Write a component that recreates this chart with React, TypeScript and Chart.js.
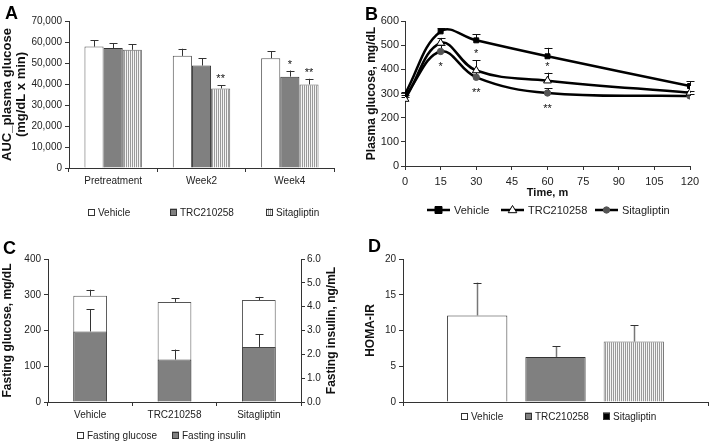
import React, { useEffect, useRef } from 'react';
import { Chart, registerables } from 'chart.js';

Chart.register(...registerables);

const FONT = '"Liberation Sans", Arial, Helvetica, sans-serif';
Chart.defaults.font.family = FONT;
Chart.defaults.color = '#222';

// ---------- Panel A: AUC plasma glucose ----------
const aCategories = ['Pretreatment', 'Week2', 'Week4'];
const aVehicle = [57800, 53400, 52300];
const aVehicleErr = [3100, 3400, 3200];
const aTrc = [57100, 48800, 43500];
const aTrcErr = [2400, 3500, 2900];
const aSita = [56300, 37900, 39800];
const aSitaErr = [2700, 1400, 2700];
const aTrcSig = ['', '', '*'];
const aSitaSig = ['', '**', '**'];

// ---------- Panel B: OGTT time course ----------
const bTimes = [0, 15, 30, 60, 120];
const bVehicle = [298, 557, 520, 454, 331];
const bVehicleErr = [8, 14, 25, 35, 19];
const bTrc = [277, 509, 395, 353, 303];
const bTrcErr = [8, 21, 43, 33, 8];
const bSita = [287, 474, 367, 302, 290];
const bSitaErr = [8, 25, 20, 20, 8];
const bTrcSig = ['', '', '*', '*', ''];
const bSitaSig = ['', '*', '**', '**', ''];

// ---------- Panel C: fasting glucose / insulin ----------
const cCategories = ['Vehicle', 'TRC210258', 'Sitagliptin'];
const cGlucose = [297, 280, 285];
const cGlucoseErr = [17, 10, 9];
const cInsulin = [2.96, 1.78, 2.31];
const cInsulinErr = [0.94, 0.42, 0.54];

// ---------- Panel D: HOMA-IR ----------
const dCategories = [''];
const dVehicle = [12.1];
const dVehicleErr = [4.6];
const dTrc = [6.3];
const dTrcErr = [1.5];
const dSita = [8.45];
const dSitaErr = [2.25];

function makeStripes(): CanvasPattern | string {
  const c = document.createElement('canvas');
  c.width = 2;
  c.height = 2;
  const g = c.getContext('2d');
  if (!g) return '#c8c8c8';
  g.fillStyle = '#f4f4f4';
  g.fillRect(0, 0, 2, 2);
  g.fillStyle = '#9a9a9a';
  g.fillRect(0, 0, 1, 2);
  return g.createPattern(c, 'repeat') || '#c8c8c8';
}

function valueOf(raw: any): number {
  return typeof raw === 'number' ? raw : raw.y;
}

function drawErrorBars(chart: any, layer: string) {
  const ctx = chart.ctx;
  chart.data.datasets.forEach((ds: any, i: number) => {
    if (!ds.errors || (ds.errorLayer || 'after') !== layer) return;
    const meta = chart.getDatasetMeta(i);
    if (meta.hidden) return;
    const vScale = meta.vScale;
    meta.data.forEach((el: any, j: number) => {
      const err = ds.errors[j];
      if (err == null) return;
      const v = valueOf(ds.data[j]);
      const yTop = vScale.getPixelForValue(v + err);
      const x = Math.round(el.x) + 0.5;
      const cap = ds.errorCap ?? 4;
      ctx.save();
      ctx.strokeStyle = ds.errorColor || '#333';
      ctx.lineWidth = ds.errorWidth || 1;
      ctx.beginPath();
      ctx.moveTo(x, el.y);
      ctx.lineTo(x, yTop);
      ctx.stroke();
      ctx.strokeStyle = ds.capColor || ds.errorColor || '#333';
      ctx.lineWidth = 1;
      ctx.beginPath();
      ctx.moveTo(x - cap, Math.round(yTop) + 0.5);
      ctx.lineTo(x + cap, Math.round(yTop) + 0.5);
      ctx.stroke();
      ctx.restore();
    });
  });
}

function drawSig(chart: any) {
  const ctx = chart.ctx;
  chart.data.datasets.forEach((ds: any, i: number) => {
    if (!ds.sig) return;
    const meta = chart.getDatasetMeta(i);
    const vScale = meta.vScale;
    meta.data.forEach((el: any, j: number) => {
      const s = ds.sig[j];
      if (!s) return;
      ctx.save();
      ctx.font = `11px ${FONT}`;
      ctx.fillStyle = '#111';
      ctx.textAlign = 'center';
      ctx.textBaseline = 'alphabetic';
      let y: number;
      if (ds.sigPlace === 'below') {
        y = el.y + 19;
      } else {
        const err = ds.errors ? ds.errors[j] || 0 : 0;
        y = vScale.getPixelForValue(valueOf(ds.data[j]) + err) - 3;
      }
      ctx.fillText(s, el.x, y);
      ctx.restore();
    });
  });
}

const errorBarPlugin = {
  id: 'errorBars',
  beforeDatasetsDraw(chart: any) {
    drawErrorBars(chart, 'before');
  },
  afterDatasetsDraw(chart: any) {
    drawErrorBars(chart, 'after');
    drawSig(chart);
  },
};

function drawMarker(ctx: CanvasRenderingContext2D, ds: any, x: number, y: number) {
  const r = ds.pointRadius || 3;
  ctx.save();
  ctx.fillStyle = ds.pointBackgroundColor || '#000';
  ctx.strokeStyle = ds.pointBorderColor || '#000';
  ctx.lineWidth = ds.pointBorderWidth || 1;
  ctx.beginPath();
  if (ds.pointStyle === 'rect') {
    ctx.rect(x - r, y - r, 2 * r, 2 * r);
  } else if (ds.pointStyle === 'triangle') {
    ctx.moveTo(x, y - r);
    ctx.lineTo(x + r * 0.95, y + r * 0.6);
    ctx.lineTo(x - r * 0.95, y + r * 0.6);
    ctx.closePath();
  } else {
    ctx.arc(x, y, r, 0, Math.PI * 2);
  }
  ctx.fill();
  ctx.stroke();
  ctx.restore();
}

const decorPlugin = {
  id: 'decor',
  afterDraw(chart: any, _args: any, o: any) {
    const ctx = chart.ctx;
    ctx.save();
    if (o.letter) {
      ctx.font = `bold 18px ${FONT}`;
      ctx.fillStyle = '#000';
      ctx.textAlign = 'left';
      ctx.textBaseline = 'alphabetic';
      ctx.fillText(o.letter, o.letterX, o.letterY);
    }
    if (o.legendX) {
      ctx.font = `${o.legendFont || 10}px ${FONT}`;
      ctx.textBaseline = 'middle';
      ctx.textAlign = 'left';
      chart.data.datasets.forEach((ds: any, i: number) => {
        const x = o.legendX[i];
        const y = o.legendY;
        if (o.legendKind === 'line') {
          const len = o.lineLen || 23;
          ctx.strokeStyle = ds.borderColor;
          ctx.lineWidth = ds.borderWidth;
          ctx.beginPath();
          ctx.moveTo(x, y);
          ctx.lineTo(x + len, y);
          ctx.stroke();
          drawMarker(ctx, ds, x + len / 2, y);
          ctx.fillStyle = '#222';
          ctx.fillText(ds.label, x + len + 4, y + 1);
        } else {
          const s = o.boxSize || 7;
          ctx.fillStyle = ds.legendFill || ds.backgroundColor;
          ctx.fillRect(x, y - s / 2, s, s);
          ctx.strokeStyle = '#333';
          ctx.lineWidth = 1;
          ctx.strokeRect(x + 0.5, Math.round(y - s / 2) + 0.5, s - 1, s - 1);
          ctx.fillStyle = '#222';
          ctx.fillText(ds.label, x + s + 3, y + 1);
        }
      });
    }
    if (o.rightTitle) {
      const area = chart.chartArea;
      ctx.font = `bold 12px ${FONT}`;
      ctx.fillStyle = '#111';
      ctx.textAlign = 'center';
      ctx.textBaseline = 'middle';
      ctx.translate(o.rightTitleX, (area.top + area.bottom) / 2);
      ctx.rotate(-Math.PI / 2);
      ctx.fillText(o.rightTitle, 0, 0);
    }
    ctx.restore();
  },
};

const AXIS = '#333';
const gridCfg = { display: true, drawOnChartArea: false, drawTicks: true, tickLength: 4, color: AXIS };
const borderCfg = { display: true, color: AXIS, width: 1 };
const titleFont = (size: number, lh: number) => ({ size, weight: 'bold' as const, lineHeight: lh });

function buildA(): any {
  const stripes = makeStripes();
  const common = { borderWidth: 1, categoryPercentage: 0.65, barPercentage: 1, errorColor: '#333', errorCap: 4 };
  return {
    type: 'bar',
    data: {
      labels: aCategories,
      datasets: [
        { ...common, label: 'Vehicle', data: aVehicle, errors: aVehicleErr, backgroundColor: '#ffffff', borderColor: '#555' },
        { ...common, label: 'TRC210258', data: aTrc, errors: aTrcErr, sig: aTrcSig, backgroundColor: '#808080', borderColor: '#333' },
        { ...common, label: 'Sitagliptin', data: aSita, errors: aSitaErr, sig: aSitaSig, backgroundColor: stripes, borderColor: '#666' },
      ],
    },
    options: {
      animation: false,
      responsive: false,
      events: [],
      layout: { padding: { left: 0, right: 21, top: 21, bottom: 0 } },
      plugins: {
        legend: { display: false },
        tooltip: { enabled: false },
        decor: { letter: 'A', letterX: 5, letterY: 19, legendX: [88, 170, 266], legendY: 212, legendKind: 'box' },
      },
      scales: {
        x: {
          grid: gridCfg,
          border: borderCfg,
          ticks: { font: { size: 10 }, padding: 3 },
          afterFit: (s: any) => { s.height = 60; },
        },
        y: {
          min: 0,
          max: 70000,
          grid: gridCfg,
          border: borderCfg,
          ticks: { stepSize: 10000, font: { size: 10 }, padding: 3, callback: (v: any) => Number(v).toLocaleString('en-US') },
          title: { display: true, text: ['AUC_plasma glucose', '(mg/dL x min)'], font: titleFont(13, 1.05), color: '#111', padding: { top: 1, bottom: 0 } },
          afterFit: (s: any) => { s.width = 69; },
        },
      },
    },
    plugins: [errorBarPlugin, decorPlugin],
  };
}

function buildB(): any {
  const pts = (vals: number[]) => vals.map((v, i) => ({ x: bTimes[i], y: v }));
  const common = { borderColor: '#000', borderWidth: 2.5, tension: 0.4, errorLayer: 'before', errorColor: '#111', errorCap: 4 };
  return {
    type: 'line',
    data: {
      datasets: [
        { ...common, label: 'Vehicle', data: pts(bVehicle), errors: bVehicleErr, pointStyle: 'rect', pointRadius: 3.5, pointBackgroundColor: '#000', pointBorderColor: '#000', pointBorderWidth: 1 },
        { ...common, label: 'TRC210258', data: pts(bTrc), errors: bTrcErr, sig: bTrcSig, pointStyle: 'triangle', pointRadius: 4.5, pointBackgroundColor: '#fff', pointBorderColor: '#000', pointBorderWidth: 1 },
        { ...common, label: 'Sitagliptin', data: pts(bSita), errors: bSitaErr, sig: bSitaSig, sigPlace: 'below', pointStyle: 'circle', pointRadius: 3.2, pointBackgroundColor: '#555', pointBorderColor: '#555', pointBorderWidth: 1 },
      ],
    },
    options: {
      animation: false,
      responsive: false,
      events: [],
      layout: { padding: { left: 0, right: 20, top: 21, bottom: 28 } },
      plugins: {
        legend: { display: false },
        tooltip: { enabled: false },
        decor: { letter: 'B', letterX: 10, letterY: 20, legendX: [72, 146, 240], legendY: 210, legendKind: 'line', lineLen: 23, legendFont: 11 },
      },
      scales: {
        x: {
          type: 'linear',
          min: 0,
          max: 120,
          grid: gridCfg,
          border: borderCfg,
          ticks: { stepSize: 15, font: { size: 11 }, padding: 5 },
          title: { display: true, text: 'Time, m', font: titleFont(11, 1.2), color: '#111', padding: { top: 0, bottom: 0 } },
          afterFit: (s: any) => { s.height = 34; },
        },
        y: {
          min: 0,
          max: 600,
          grid: gridCfg,
          border: borderCfg,
          ticks: { stepSize: 100, font: { size: 11 }, padding: 2 },
          title: { display: true, text: 'Plasma glucose, mg/dL', font: titleFont(12, 1.2), color: '#111', padding: { top: 9, bottom: 0 } },
          afterFit: (s: any) => { s.width = 50; },
        },
      },
    },
    plugins: [errorBarPlugin, decorPlugin],
  };
}

function buildC(): any {
  const common = { borderWidth: 1, grouped: false, categoryPercentage: 0.4, barPercentage: 1, errorColor: '#333', errorCap: 4 };
  return {
    type: 'bar',
    data: {
      labels: cCategories,
      datasets: [
        { ...common, label: 'Fasting glucose', data: cGlucose, errors: cGlucoseErr, yAxisID: 'y', order: 1, backgroundColor: '#ffffff', borderColor: '#555' },
        { ...common, label: 'Fasting insulin', data: cInsulin, errors: cInsulinErr, yAxisID: 'y1', order: 0, backgroundColor: '#808080', borderColor: '#444' },
      ],
    },
    options: {
      animation: false,
      responsive: false,
      events: [],
      layout: { padding: { left: 0, right: 0, top: 31, bottom: 0 } },
      plugins: {
        legend: { display: false },
        tooltip: { enabled: false },
        decor: { letter: 'C', letterX: 3, letterY: 26, legendX: [77, 172], legendY: 207, legendKind: 'box', rightTitle: 'Fasting insulin, ng/mL', rightTitleX: 332 },
      },
      scales: {
        x: {
          grid: gridCfg,
          border: borderCfg,
          ticks: { font: { size: 10 }, padding: 3 },
          afterFit: (s: any) => { s.height = 39; },
        },
        y: {
          position: 'left',
          min: 0,
          max: 400,
          grid: gridCfg,
          border: borderCfg,
          ticks: { stepSize: 100, font: { size: 10 }, padding: 3 },
          title: { display: true, text: 'Fasting glucose, mg/dL', font: titleFont(12, 1.2), color: '#111', padding: { top: 0, bottom: 0 } },
          afterFit: (s: any) => { s.width = 48; },
        },
        y1: {
          position: 'right',
          min: 0,
          max: 6,
          grid: gridCfg,
          border: borderCfg,
          ticks: { stepSize: 1, font: { size: 10 }, padding: 2, callback: (v: any) => Number(v).toFixed(1) },
          afterFit: (s: any) => { s.width = 54; },
        },
      },
    },
    plugins: [errorBarPlugin, decorPlugin],
  };
}

function buildD(): any {
  const stripes = makeStripes();
  const common = { borderWidth: 1, categoryPercentage: 0.77, barPercentage: 0.77, errorColor: '#777', capColor: '#333', errorWidth: 1.5, errorCap: 4 };
  return {
    type: 'bar',
    data: {
      labels: dCategories,
      datasets: [
        { ...common, label: 'Vehicle', data: dVehicle, errors: dVehicleErr, backgroundColor: '#ffffff', borderColor: '#333' },
        { ...common, label: 'TRC210258', data: dTrc, errors: dTrcErr, backgroundColor: '#808080', borderColor: '#333' },
        { ...common, label: 'Sitagliptin', data: dSita, errors: dSitaErr, backgroundColor: stripes, borderColor: '#666', legendFill: '#000' },
      ],
    },
    options: {
      animation: false,
      responsive: false,
      events: [],
      layout: { padding: { left: 0, right: 2, top: 31, bottom: 0 } },
      plugins: {
        legend: { display: false },
        tooltip: { enabled: false },
        decor: { letter: 'D', letterX: 13, letterY: 24, legendX: [106, 170, 248], legendY: 188, legendKind: 'box' },
      },
      scales: {
        x: {
          grid: gridCfg,
          border: borderCfg,
          ticks: { display: false },
          afterFit: (s: any) => { s.height = 39; },
        },
        y: {
          min: 0,
          max: 20,
          grid: gridCfg,
          border: borderCfg,
          ticks: { stepSize: 5, font: { size: 10 }, padding: 3 },
          title: { display: true, text: 'HOMA-IR', font: titleFont(12, 1.2), color: '#111', padding: { top: 8, bottom: 0 } },
          afterFit: (s: any) => { s.width = 48; },
        },
      },
    },
    plugins: [errorBarPlugin, decorPlugin],
  };
}

function Panel(props: { x: number; y: number; w: number; h: number; build: () => any }) {
  const ref = useRef<HTMLCanvasElement>(null);
  useEffect(() => {
    if (!ref.current) return;
    const chart = new Chart(ref.current, props.build());
    return () => chart.destroy();
  }, []);
  return (
    <canvas
      ref={ref}
      width={props.w}
      height={props.h}
      style={{ position: 'absolute', left: props.x, top: props.y, width: props.w, height: props.h }}
    />
  );
}

export default function App() {
  return (
    <div style={{ position: 'absolute', left: 0, top: 0, width: 710, height: 441, background: '#fff', overflow: 'hidden' }}>
      <Panel x={0} y={0} w={355} h={228} build={buildA} />
      <Panel x={355} y={0} w={355} h={228} build={buildB} />
      <Panel x={0} y={228} w={355} h={213} build={buildC} />
      <Panel x={355} y={228} w={355} h={213} build={buildD} />
    </div>
  );
}
